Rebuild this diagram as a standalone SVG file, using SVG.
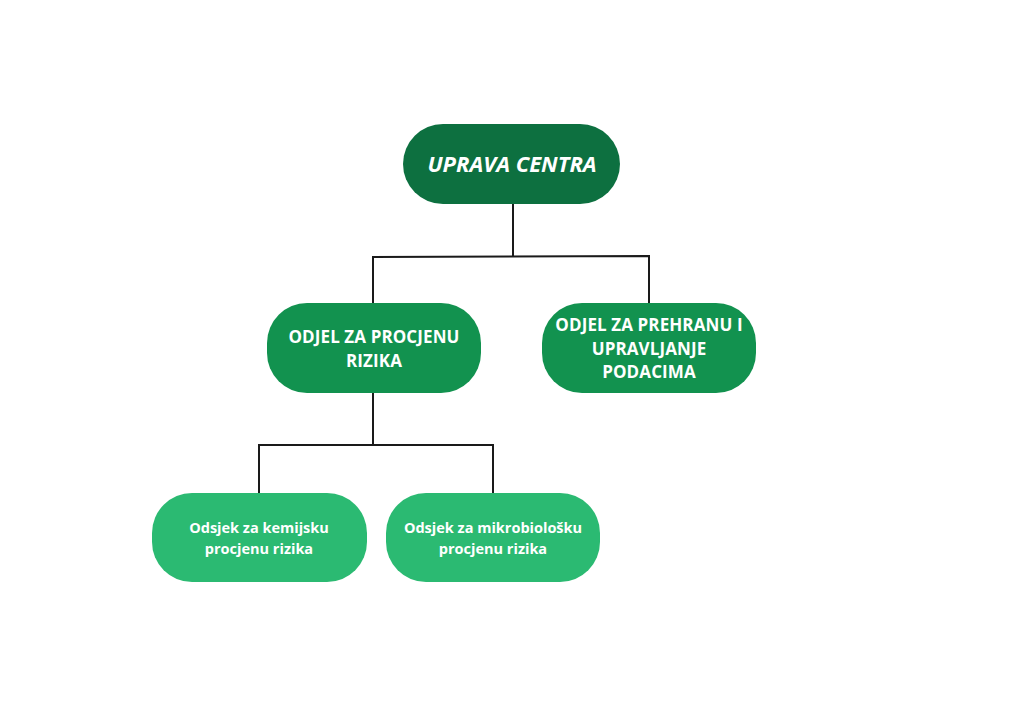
<svg xmlns="http://www.w3.org/2000/svg" width="1024" height="726" viewBox="0 0 1024 726">
<style>
.n1{fill:#0d7040}
.n2{fill:#12924f}
.n3{fill:#2bba72}
.t{fill:#ffffff;font-family:"Open Sans","Noto Sans",sans-serif;font-weight:bold;text-anchor:middle}
.t1{font-size:22px;font-style:italic}
.t2{font-size:17px;letter-spacing:0.1px}
.t3{font-size:14.5px}
.c{fill:none;stroke:#1a1a1a;stroke-width:2}
</style>
<rect width="1024" height="726" fill="#ffffff"/>
<g id="connectors">
<path class="c" d="M513 204 V256 M373 303 V257 L649 256 V303"/>
<path class="c" d="M373 393 V445 M259 493 V445 H493 V493"/>
</g>
<g id="uprava">
<rect class="n1" x="403" y="124" width="217" height="80" rx="40"/>
<text class="t t1" x="512" y="172">UPRAVA CENTRA</text>
</g>
<g id="odjel-procjena">
<rect class="n2" x="267" y="303" width="214" height="90" rx="40"/>
<text class="t t2" x="374" y="343">ODJEL ZA PROCJENU</text>
<text class="t t2" x="374" y="367">RIZIKA</text>
</g>
<g id="odjel-prehrana">
<rect class="n2" x="542" y="303" width="214" height="90" rx="40"/>
<text class="t t2" x="649" y="331">ODJEL ZA PREHRANU I</text>
<text class="t t2" x="649" y="355">UPRAVLJANJE</text>
<text class="t t2" x="649" y="378">PODACIMA</text>
</g>
<g id="odsjek-kemijski">
<rect class="n3" x="152" y="493" width="215" height="89" rx="40"/>
<text class="t t3" x="259" y="533">Odsjek za kemijsku</text>
<text class="t t3" x="259" y="554">procjenu rizika</text>
</g>
<g id="odsjek-mikrobioloski">
<rect class="n3" x="386" y="493" width="214" height="89" rx="40"/>
<text class="t t3" x="493" y="533">Odsjek za mikrobiološku</text>
<text class="t t3" x="493" y="554">procjenu rizika</text>
</g>
</svg>
